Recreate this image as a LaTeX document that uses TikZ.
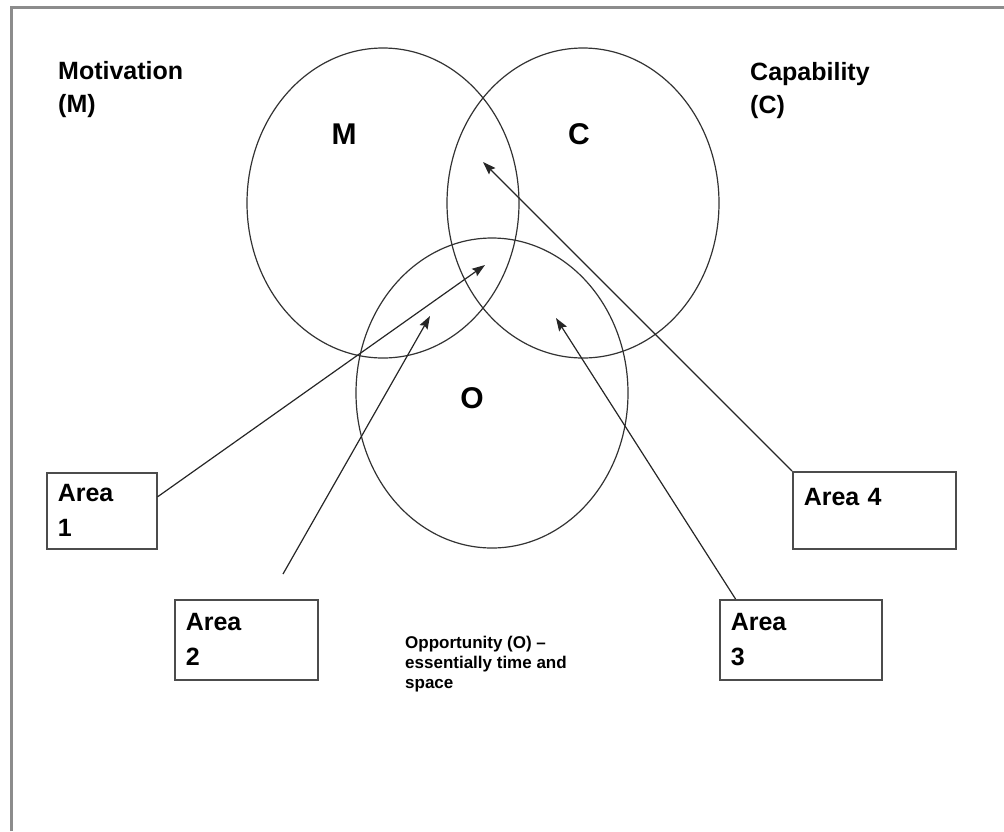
\documentclass[tikz,border=0pt]{standalone}
\usepackage{fontspec}
\setmainfont{Liberation Sans}
\usetikzlibrary{arrows.meta,shapes.geometric}
\begin{document}
\begin{tikzpicture}[x=1pt,y=-1pt,
  ring/.style={draw=black!80, line width=1.2pt, ellipse, minimum width=272pt, minimum height=310pt, inner sep=0pt},
  biglet/.style={font=\fontsize{30}{30}\selectfont\bfseries, inner sep=0pt},
  lab/.style={font=\fontsize{25}{33}\selectfont\bfseries, align=left, anchor=north west, inner sep=0pt},
  areabox/.style={draw=black!70, line width=1.5pt, anchor=north west, align=left, inner xsep=11pt, inner ysep=0pt, font=\fontsize{25}{35}\selectfont\bfseries},
  link/.style={draw=black!85, line width=1.2pt, -{Stealth[length=13pt,width=9pt,inset=2pt]}},
  frame/.style={draw=black!45, line width=3pt}
]
\useasboundingbox (0,0) rectangle (1004,831);
% outer frame (only top and left edges are visible)
\coordinate (fbl) at (11,831);
\coordinate (ftl) at (11,7);
\coordinate (ftr) at (1004,7);
\draw[frame] (fbl) -- (ftl) -- (ftr);

% circles
\node[ring] (cm) at (383,203) {};
\node[ring] (cc) at (583,203) {};
\node[ring] (co) at (492,393) {};

% circle letters
\node[biglet] (lm) at (344,134) {M};
\node[biglet] (lc) at (579,134) {C};
\node[biglet] (lo) at (472,398) {O};

% corner labels
\node[lab] (mot) at (58,61) {Motivation\\(M)};
\node[lab] (cap) at (750,62) {Capability\\(C)};

% area boxes
\node[areabox, text width=88pt, minimum height=76pt] (a1) at (46,472) {Area\\1};
\node[areabox, text width=121pt, minimum height=80pt] (a2) at (174,599) {Area\\2};
\node[areabox, text width=140pt, minimum height=80pt] (a3) at (719,599) {Area\\3};
\node[areabox, text width=141pt, inner ysep=16pt, text height=18pt, text depth=27pt] (a4) at (792,471) {Area 4};

% opportunity note
\node[font=\fontsize{17}{20}\selectfont\bfseries, align=left, anchor=north west, inner sep=0pt] (opp) at (405,636) {Opportunity (O) –\\essentially time and\\space};

% arrow targets
\coordinate (t1) at (485,265);
\coordinate (t2) at (430,316);
\coordinate (t3) at (556,318);
\coordinate (t4) at (483,162);
\coordinate (s2) at (283,574);

% arrows
\draw[link] (a1.14) -- (t1);
\draw[link] (s2) -- (t2);
\draw[link] (a3.148) -- (t3);
\draw[link] (a4.north west) -- (t4);
\end{tikzpicture}
\end{document}
